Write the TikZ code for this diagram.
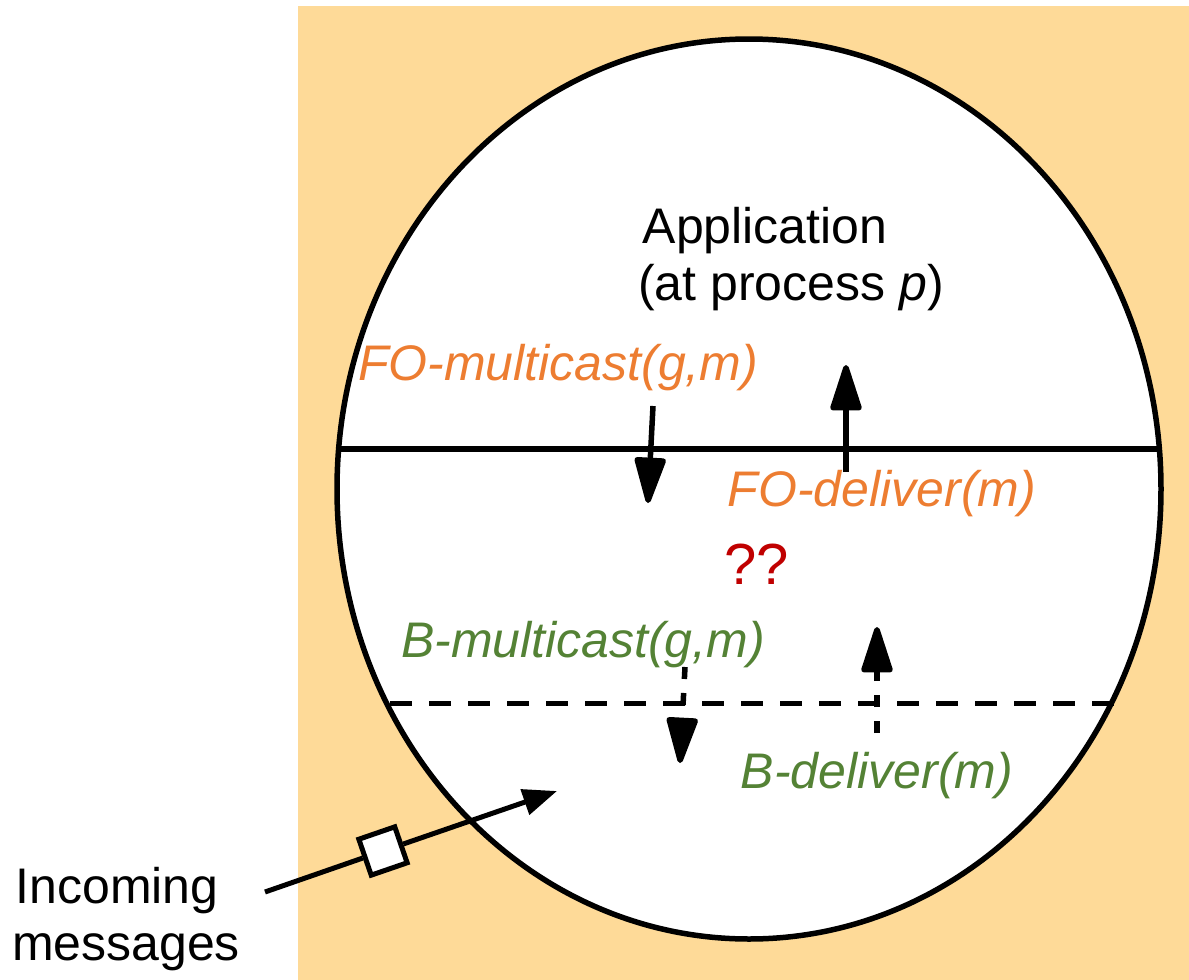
\documentclass[tikz,border=0pt]{standalone}
\usepackage{fontspec}
\setmainfont{Liberation Sans}
\usetikzlibrary{arrows.meta}

\definecolor{procbg}{RGB}{254,218,152}
\definecolor{foorange}{RGB}{237,125,49}
\definecolor{bgreen}{RGB}{84,130,53}
\definecolor{qred}{RGB}{192,0,0}

\tikzset{
  lbl/.style={font=\fontsize{50pt}{57pt}\selectfont, anchor=base, inner sep=0pt},
  folbl/.style={lbl, text=foorange, font=\fontsize{50pt}{57pt}\selectfont\itshape},
  blbl/.style={lbl, text=bgreen, font=\fontsize{50pt}{57pt}\selectfont\itshape},
  bigarrow/.style={line width=5.5pt, -{Triangle[length=52pt,width=32pt,round]}},
  dasharrow/.style={bigarrow, dash pattern=on 12pt off 14pt},
  msgbox/.style={draw, fill=white, line width=5pt, minimum size=38pt, inner sep=0pt}
}

\begin{document}
\begin{tikzpicture}[x=1pt, y=-1pt]
    \useasboundingbox (0,0) rectangle (1189,980);
    % Define process area
    \fill[procbg] (298,6) rectangle (1189,980);
    \draw[line width=5.5pt, fill=white] (749,489) ellipse [x radius=412pt, y radius=450pt];

    % Define layer borders
    \coordinate (fo-l) at (337,449);
    \coordinate (fo-r) at (1161,449);
    \coordinate (b-l) at (390,703);
    \coordinate (b-r) at (1120,703);
    \draw[line width=5.5pt] (fo-l) -- (fo-r);
    \draw[line width=5pt, dash pattern=on 22pt off 17pt] (b-l) -- (b-r);

    % Define labels
    \node[lbl] (app) at (765,243) {Application};
    \node[lbl] (atp) at (791,300) {(at process \textit{p})};
    \node[folbl] (fomc) at (558,380) {FO-multicast(g,m)};
    \node[folbl] (fodl) at (882,506) {FO-deliver(m)};
    \node[lbl, text=qred, font=\fontsize{58pt}{64pt}\selectfont] (qq) at (757,584) {??};
    \node[blbl] (bmc) at (583,657) {B-multicast(g,m)};
    \node[blbl] (bdl) at (877,788) {B-deliver(m)};
    \node[lbl] (inc) at (117,903) {Incoming};
    \node[lbl] (msgs) at (126,960) {messages};

    % Define calls between layers
    \coordinate (fomc-s) at (653,406);
    \coordinate (fomc-e) at (648,503);
    \coordinate (fodl-s) at (846,472);
    \coordinate (fodl-e) at (846,365);
    \coordinate (bmc-s) at (685,667);
    \coordinate (bmc-e) at (680,763);
    \coordinate (bdl-s) at (877,733);
    \coordinate (bdl-e) at (877,627);
    \draw[bigarrow] (fomc-s) -- (fomc-e);
    \draw[bigarrow] (fodl-s) -- (fodl-e);
    \draw[dasharrow] (bmc-s) -- (bmc-e);
    \draw[dasharrow] (bdl-s) -- (bdl-e);

    % Define incoming message
    \coordinate (src) at (265,892);
    \coordinate (dst) at (557,791);
    \node[msgbox, rotate=19] (msg) at (383,851) {};
    \draw[line width=5pt] (src) -- (msg);
    \draw[line width=5pt, -{Triangle[length=34pt,width=26pt]}] (msg) -- (dst);
\end{tikzpicture}
\end{document}
